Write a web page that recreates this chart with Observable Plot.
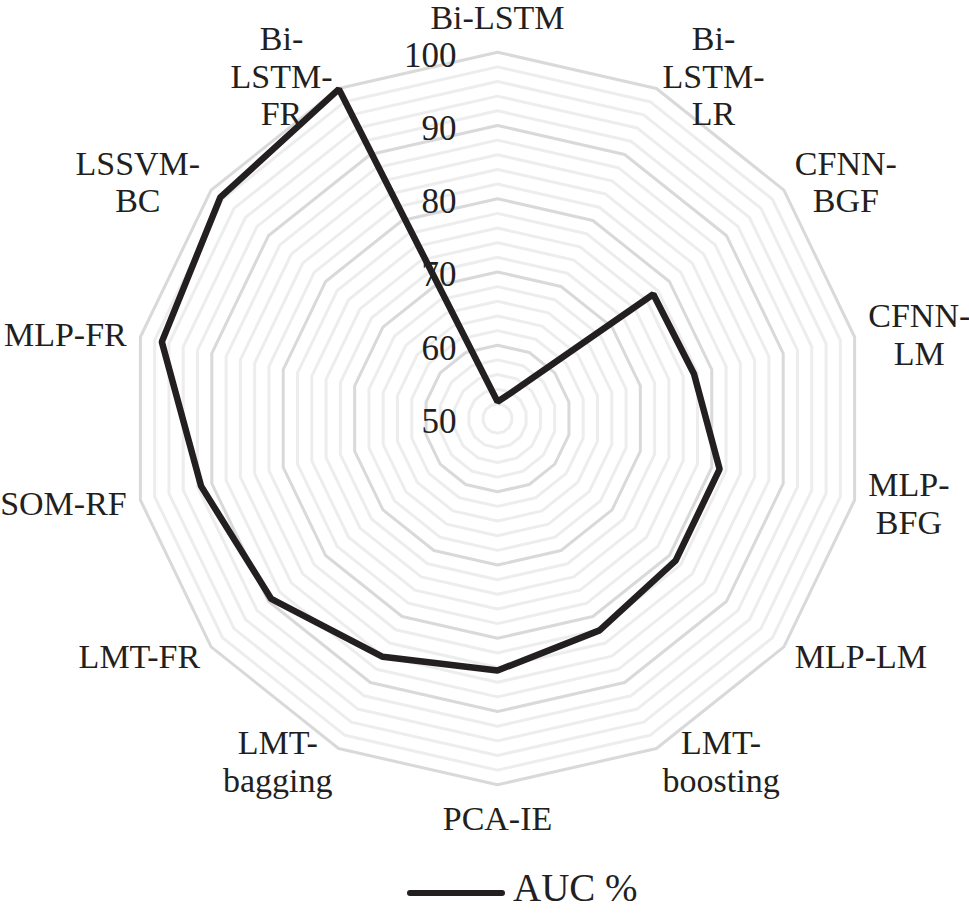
<!DOCTYPE html>
<html><head><meta charset="utf-8">
<script src="https://cdn.jsdelivr.net/npm/d3@7"></script>
<script src="https://cdn.jsdelivr.net/npm/@observablehq/plot@0.6"></script>
<style>
body{margin:0;background:#fff;}
#wrap{position:relative;width:969px;height:919px;font-family:"Liberation Serif","Times New Roman",serif;color:#231f20;}
#chart svg{display:block;}
#legend{position:absolute;left:0;top:860px;width:969px;height:59px;}
#legend .swatch{position:absolute;left:407px;top:30px;width:98px;height:6px;border-radius:3px;background:#231f20;}
#legend .lbl{position:absolute;left:513px;top:8px;font-size:39px;line-height:39px;white-space:nowrap;}
</style></head><body>
<div id="wrap"><div id="chart"></div>
<div id="legend"><div class="swatch"></div><div class="lbl">AUC %</div></div></div>
<script>
const categories = ["Bi-LSTM","Bi-LSTM-LR","CFNN-BGF","CFNN-LM","MLP-BFG","MLP-LM","LMT-boosting","PCA-IE","LMT-bagging","LMT-FR","SOM-RF","MLP-FR","LSSVM-BC","Bi-LSTM-FR"];
const labelText = ["Bi-LSTM","Bi-\nLSTM-\nLR","CFNN-\nBGF","CFNN-\nLM","MLP-\nBFG","MLP-LM","LMT-\nboosting","PCA-IE","LMT-\nbagging","LMT-FR","SOM-RF","MLP-FR","LSSVM-\nBC","Bi-\nLSTM-\nFR"];
const auc = [52.3, 53.7, 77.2, 77.5, 81.1, 81.1, 82.1, 84.4, 86.1, 89.5, 91.5, 97.0, 98.4, 99.9];
const gridLevels = d3.range(52, 101, 2);
const tickLabels = [50, 60, 70, 80, 90, 100];
const seriesName = "AUC %";

(function () {
const W = 969, H = 860, CX = 497, CY = 418, R = 366.3;
const rMin = 50, rMax = 100;
const s = R / (rMax - rMin);
const n = categories.length;
const ang = i => i * 2 * Math.PI / n;
const px = (v, i) => (v - rMin) * Math.sin(ang(i));
const py = (v, i) => (v - rMin) * Math.cos(ang(i));
const FS = 34;
const fam = "'Liberation Serif','Times New Roman',serif";
const ctx = document.createElement("canvas").getContext("2d");
ctx.font = `${FS}px ${fam}`;
const textW = t => Math.max(...t.split("\n").map(l => ctx.measureText(l).width));

const rings = gridLevels.flatMap(v => categories.map((c, i) => ({v, i, major: v % 10 === 0})));
const minorRings = rings.filter(d => !d.major);
const majorRings = rings.filter(d => d.major);
const pts = categories.map((c, i) => ({c, i, v: auc[i]}));
const labs = categories.map((c, i) => ({c, i, t: labelText[i], w: textW(labelText[i])}));
const gap = 14 / s;
const side = d => (d.i === 0 || d.i === n / 2) ? 0 : (d.i < n / 2 ? 1 : -1);
const lx = d => px(rMax + gap, d.i) + side(d) * d.w / 2 / s;
const ly = d => py(rMax + gap, d.i);
const sideLabs = labs.filter(d => side(d) !== 0);
const topLabs = labs.filter(d => d.i === 0);
const bottomLabs = labs.filter(d => d.i === n / 2);
const font = {fontFamily: fam, fontSize: FS, fill: "#231f20", lineHeight: 1.1};

const chart = Plot.plot({
  width: W, height: H, margin: 0,
  x: {domain: [-CX / s, (W - CX) / s], range: [0, W], axis: null},
  y: {domain: [-(H - CY) / s, CY / s], range: [H, 0], axis: null},
  style: {background: "#fff", overflow: "visible"},
  marks: [
    Plot.line(minorRings, {x: d => px(d.v, d.i), y: d => py(d.v, d.i), z: "v", curve: "linear-closed", stroke: "#ededed", strokeWidth: 3}),
    Plot.line(majorRings, {x: d => px(d.v, d.i), y: d => py(d.v, d.i), z: "v", curve: "linear-closed", stroke: "#d9d9d9", strokeWidth: 3}),
    Plot.text(tickLabels, {x: 0, y: d => d - rMin, text: d => String(d), textAnchor: "end", dx: -41, dy: 2, ...font, fontSize: 35}),
    Plot.line(pts, {x: d => px(d.v, d.i), y: d => py(d.v, d.i), curve: "linear-closed", stroke: "#231f20", strokeWidth: 6.5, strokeLinejoin: "miter"}),
    Plot.text(sideLabs, {x: lx, y: ly, text: "t", textAnchor: "middle", lineAnchor: "middle", ...font}),
    Plot.text(topLabs, {x: d => px(rMax, d.i), y: d => py(rMax, d.i), text: "t", textAnchor: "middle", lineAnchor: "bottom", dy: -23, ...font}),
    Plot.text(bottomLabs, {x: d => px(rMax, d.i), y: d => py(rMax, d.i), text: "t", textAnchor: "middle", lineAnchor: "top", dy: 19, ...font})
  ]
});
document.getElementById("chart").appendChild(chart);
document.querySelector("#legend .lbl").textContent = seriesName;
})();
</script>
</body></html>
